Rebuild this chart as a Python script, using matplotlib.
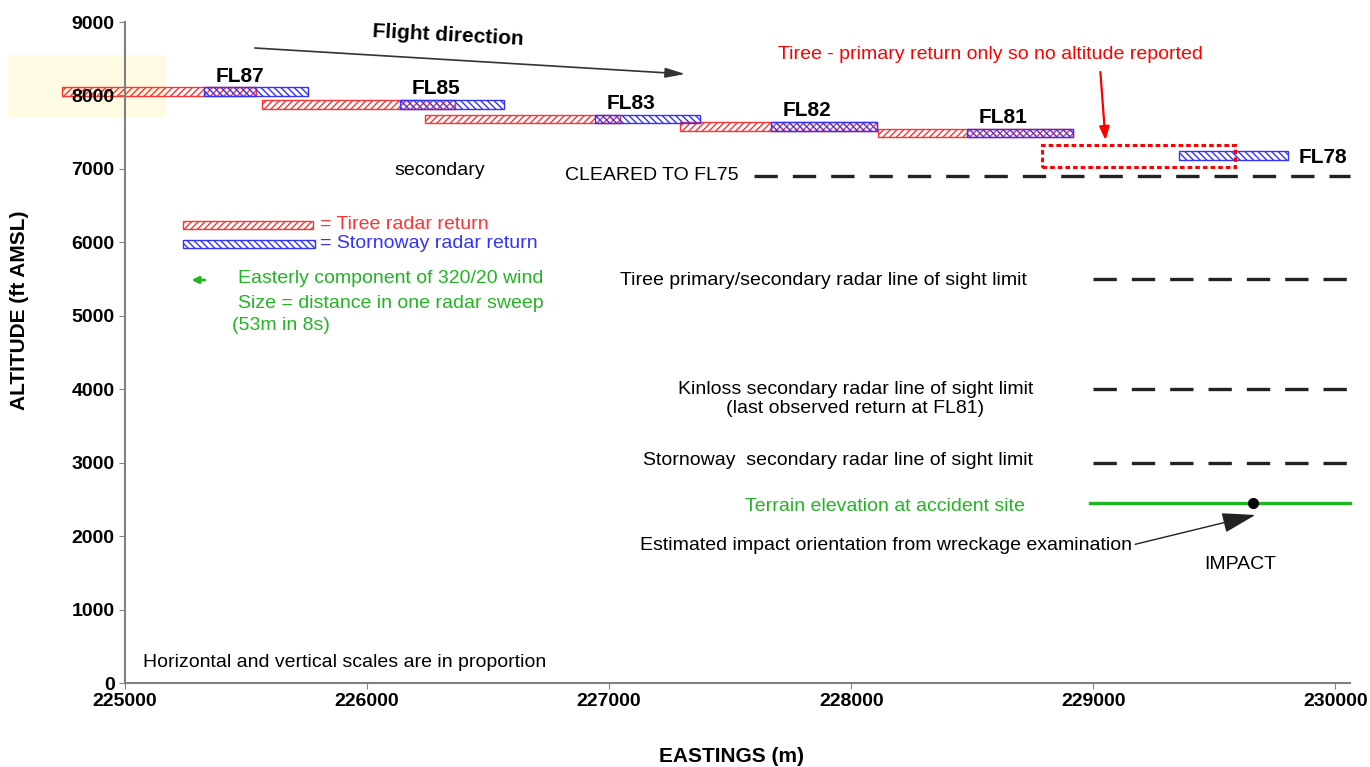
import matplotlib.pyplot as plt
from matplotlib.patches import Rectangle

plt.rcParams['font.family'] = ['Liberation Sans', 'DejaVu Sans']
plt.rcParams['hatch.linewidth'] = 1.0

# radar returns, eastings (m) and altitude (ft AMSL)
fl_labels = ['FL87', 'FL85', 'FL83', 'FL82', 'FL81', 'FL78']
return_alt = [8050, 7880, 7680, 7580, 7490, 7180]
tiree_start = [224740, 225566, 226240, 227293, 228112]
tiree_end = [225541, 226364, 227045, 228107, 228917]
storn_start = [225326, 226136, 226942, 227669, 228479, 229355]
storn_end = [225756, 226566, 227376, 228107, 228917, 229802]

# Tiree primary-only return (no altitude)
primary_x = [228789, 229587]
primary_alt = [7026, 7326]

# reference lines
cleared_alt = 6900
cleared_from = 227600
los_alt = [5500, 4000, 3000]
los_from = 229000
terrain_alt = 2450
impact_e = 229661

RED = '#ff3333'
BLUE = '#3333ff'
GREEN = '#22b522'
bar_h = 120

fig = plt.figure(figsize=(13.7, 7.67), dpi=100)
ax = fig.add_axes([0.0912, 0.1095, 0.8942, 0.8618])
ax.set_facecolor('none')

# pale highlight behind the 8000 label
fig.patches.append(Rectangle((0.006, 0.8475), 0.115, 0.0805, transform=fig.transFigure,
                             facecolor='#fffbe3', edgecolor='none', zorder=-1))

for i in range(len(tiree_start)):
    ax.add_patch(Rectangle((tiree_start[i], return_alt[i] - bar_h / 2), tiree_end[i] - tiree_start[i], bar_h,
                           facecolor='none', edgecolor=RED, hatch='/////', lw=1.0, clip_on=False))
for i in range(len(storn_start)):
    ax.add_patch(Rectangle((storn_start[i], return_alt[i] - bar_h / 2), storn_end[i] - storn_start[i], bar_h,
                           facecolor='none', edgecolor=BLUE, hatch='\\\\\\\\\\', lw=1.0, clip_on=False))
for i in range(len(fl_labels) - 1):
    ax.text(storn_start[i] + 150, return_alt[i] + 210, fl_labels[i], ha='center', va='center',
            fontsize=15, fontweight='bold')
ax.text(storn_end[-1] + 45, return_alt[-1] - 20, fl_labels[-1], ha='left', va='center',
        fontsize=15, fontweight='bold')

ax.add_patch(Rectangle((primary_x[0], primary_alt[0]), primary_x[1] - primary_x[0], primary_alt[1] - primary_alt[0],
                       facecolor='none', edgecolor='#ff0000', lw=2.2, linestyle=(0, (1.5, 1))))

dash = (0, (7, 4.5))
ax.plot([cleared_from, 230060], [cleared_alt] * 2, color='#222222', lw=2.4, linestyle=dash, clip_on=False)
for a in los_alt:
    ax.plot([los_from, 230060], [a, a], color='#222222', lw=2.4, linestyle=dash, clip_on=False)
ax.plot([228985, 230060], [terrain_alt] * 2, color=GREEN, lw=2.4, clip_on=False)
ax.plot([impact_e], [terrain_alt], 'o', color='black', ms=7)

fs = 14
ax.text(227533, 6904, 'CLEARED TO FL75', ha='right', va='center', fontsize=fs)
ax.text(228727, 5487, 'Tiree primary/secondary radar line of sight limit', ha='right', va='center', fontsize=fs)
ax.text(228017, 3867, 'Kinloss secondary radar line of sight limit\n(last observed return at FL81)',
        ha='center', va='center', fontsize=fs, linespacing=1.2)
ax.text(228752, 3023, 'Stornoway  secondary radar line of sight limit', ha='right', va='center', fontsize=fs)
ax.text(228719, 2410, 'Terrain elevation at accident site', ha='right', va='center', fontsize=fs, color=GREEN)
ax.annotate('Estimated impact orientation from wreckage examination', xy=(229669, 2288), xytext=(228145, 1879),
            ha='center', va='center', fontsize=fs,
            arrowprops=dict(arrowstyle='-|>,head_length=1.5,head_width=0.45', color='#222222', lw=1.0,
                            shrinkA=0, shrinkB=0, relpos=(1.0, 0.5)))
ax.text(229607, 1607, 'IMPACT', ha='center', va='center', fontsize=fs)
ax.text(226302, 6985, 'secondary', ha='center', va='center', fontsize=fs)
ax.text(225074, 286, 'Horizontal and vertical scales are in proportion', ha='left', va='center', fontsize=fs)

ax.text(228574, 8551, 'Tiree - primary return only so no altitude reported', ha='center', va='center',
        fontsize=fs, color='#ff0000')
ax.annotate('', xy=(229050, 7390), xytext=(229029, 8320),
            arrowprops=dict(arrowstyle='-|>,head_length=0.8,head_width=0.3', color='#ff0000', lw=1.6,
                            shrinkA=0, shrinkB=0))

ax.annotate('', xy=(227314, 8292), xytext=(225537, 8646),
            arrowprops=dict(arrowstyle='-|>,head_length=1.2,head_width=0.3', color='#333333', lw=1.2,
                            shrinkA=0, shrinkB=0))
ax.text(226335, 8810, 'Flight direction', ha='center', va='center', fontsize=15, fontweight='bold', rotation=-3)

# legend drawn by hand
ax.add_patch(Rectangle((225240, 6182), 537, 110, facecolor='none', edgecolor=RED, hatch='/////', lw=1.0))
ax.add_patch(Rectangle((225240, 5923), 545, 110, facecolor='none', edgecolor=BLUE, hatch='\\\\\\\\\\', lw=1.0))
ax.text(225806, 6237, '= Tiree radar return', ha='left', va='center', fontsize=fs, color=RED)
ax.text(225806, 5978, '= Stornoway radar return', ha='left', va='center', fontsize=fs, color=BLUE)
ax.annotate('', xy=(225275, 5487), xytext=(225330, 5487),
            arrowprops=dict(arrowstyle='-|>,head_length=0.4,head_width=0.2', color=GREEN, lw=2.0,
                            shrinkA=0, shrinkB=0))
ax.text(225467, 5501, 'Easterly component of 320/20 wind', ha='left', va='center', fontsize=fs, color=GREEN)
ax.text(225467, 5174, 'Size = distance in one radar sweep', ha='left', va='center', fontsize=fs, color=GREEN)
ax.text(225442, 4861, '(53m in 8s)', ha='left', va='center', fontsize=fs, color=GREEN)

ax.set_xlim(225000, 230060)
ax.set_ylim(0, 9000)
ax.set_xticks(range(225000, 230001, 1000))
ax.set_yticks(range(0, 9001, 1000))
for lab in ax.get_xticklabels() + ax.get_yticklabels():
    lab.set_fontweight('bold')
ax.tick_params(labelsize=14, length=4, color='#808080')
for s in ['top', 'right']:
    ax.spines[s].set_visible(False)
for s in ['left', 'bottom']:
    ax.spines[s].set_color('#808080')
    ax.spines[s].set_linewidth(1.5)
fig.text(732 / 1370, 11 / 767, 'EASTINGS (m)', ha='center', va='center', fontsize=15, fontweight='bold')
fig.text(20 / 1370, 1 - 310 / 767, 'ALTITUDE (ft AMSL)', ha='center', va='center', rotation=90,
         fontsize=15, fontweight='bold')

fig.savefig('out.png', dpi=100)
